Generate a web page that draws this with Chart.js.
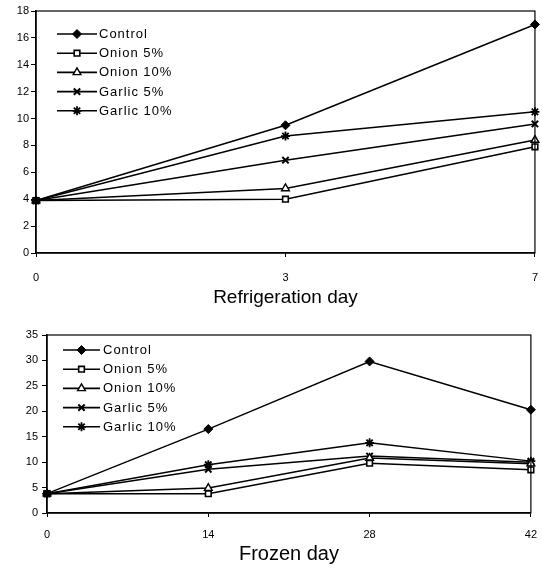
<!DOCTYPE html>
<html>
<head>
<meta charset="utf-8">
<script src="https://cdn.jsdelivr.net/npm/chart.js@4.4.1/dist/chart.umd.min.js"></script>
<style>
  html, body { margin: 0; padding: 0; background: #fff; overflow: hidden; }
  #wrapTop { position: absolute; left: 0; top: 0; width: 542px; height: 310px; overflow: hidden; }
  #wrapBottom { position: absolute; left: 0; top: 310px; width: 542px; height: 256px; overflow: hidden; }
</style>
</head>
<body>
<div id="wrapTop"><canvas id="topChart" width="552" height="310"></canvas></div>
<div id="wrapBottom"><canvas id="bottomChart" width="548" height="256"></canvas></div>
<script>
// ---- Data ----
const seriesNames = ['Control', 'Onion 5%', 'Onion 10%', 'Garlic 5%', 'Garlic 10%'];

const refrigerationDays = ['0', '3', '7'];
const refControl  = [3.9, 9.5, 17.0];
const refOnion5   = [3.9, 4.0, 7.9];
const refOnion10  = [3.9, 4.8, 8.4];
const refGarlic5  = [3.9, 6.9, 9.6];
const refGarlic10 = [3.9, 8.7, 10.5];
const refYTicks = [0, 2, 4, 6, 8, 10, 12, 14, 16, 18];

const frozenDays = ['0', '14', '28', '42'];
const frzControl  = [3.8, 16.5, 29.8, 20.3];
const frzOnion5   = [3.8, 3.8, 9.8, 8.5];
const frzOnion10  = [3.8, 4.9, 10.8, 9.7];
const frzGarlic5  = [3.8, 8.6, 11.2, 10.0];
const frzGarlic10 = [3.8, 9.5, 13.8, 10.2];
const frzYTicks = [0, 5, 10, 15, 20, 25, 30, 35];

// ---- Styles ----
const FONT = "'Liberation Sans', Arial, sans-serif";
const markerStyles = [
  { pointStyle: 'rectRot',  pointRadius: 4.5, pointBackgroundColor: '#000', pointBorderWidth: 1 },
  { pointStyle: 'rect',     pointRadius: 4,   pointBackgroundColor: '#fff', pointBorderWidth: 1.6 },
  { pointStyle: 'triangle', pointRadius: 4.5, pointBackgroundColor: '#fff', pointBorderWidth: 1.4 },
  { pointStyle: 'crossRot', pointRadius: 4.5, pointBackgroundColor: '#000', pointBorderWidth: 2 },
  { pointStyle: 'star',     pointRadius: 4.5, pointBackgroundColor: '#000', pointBorderWidth: 1.8 }
];

function makeDatasets(arrays) {
  return arrays.map((arr, i) => Object.assign({
    label: seriesNames[i],
    data: arr,
    borderColor: '#000',
    borderWidth: 1.5,
    pointBorderColor: '#000',
    tension: 0
  }, markerStyles[i]));
}

function drawMarker(ctx, ds, x, y) {
  ctx.save();
  ctx.fillStyle = ds.pointBackgroundColor;
  ctx.strokeStyle = '#000';
  ctx.lineWidth = ds.pointBorderWidth;
  if (Chart.helpers && Chart.helpers.drawPoint) {
    Chart.helpers.drawPoint(ctx, { pointStyle: ds.pointStyle, radius: ds.pointRadius, borderWidth: ds.pointBorderWidth, rotation: 0 }, x, y);
  } else {
    ctx.beginPath(); ctx.arc(x, y, ds.pointRadius, 0, Math.PI * 2); ctx.fill(); ctx.stroke();
  }
  ctx.restore();
}

const innerLegend = {
  id: 'innerLegend',
  afterDatasetsDraw(chart, args, opts) {
    const ctx = chart.ctx;
    const ca = chart.chartArea;
    ctx.save();
    ctx.font = opts.fontSize + 'px ' + FONT;
    ctx.textBaseline = 'middle';
    ctx.fillStyle = '#000';
    if ('letterSpacing' in ctx) ctx.letterSpacing = opts.letterSpacing + 'px';
    chart.data.datasets.forEach((ds, i) => {
      const y = ca.top + opts.offsetY + i * opts.spacing;
      const x0 = ca.left + opts.lineStart;
      const x1 = ca.left + opts.lineEnd;
      ctx.beginPath();
      ctx.lineWidth = 1.6;
      ctx.strokeStyle = '#000';
      ctx.moveTo(x0, y); ctx.lineTo(x1, y); ctx.stroke();
      drawMarker(ctx, ds, (x0 + x1) / 2, y);
      ctx.fillText(ds.label, x1 + opts.textGap, y + 0.5);
    });
    ctx.restore();
  }
};

const frame = {
  id: 'frame',
  afterDraw(chart) {
    const ctx = chart.ctx, ca = chart.chartArea;
    ctx.save();
    ctx.strokeStyle = '#000';
    ctx.lineWidth = 1.2;
    ctx.strokeRect(ca.left, ca.top, ca.right - ca.left, ca.bottom - ca.top);
    ctx.restore();
  }
};

function makeChart(id, labels, arrays, yTicks, cfg) {
  return new Chart(document.getElementById(id), {
    type: 'line',
    data: { labels: labels, datasets: makeDatasets(arrays) },
    plugins: [innerLegend, frame],
    options: {
      responsive: false,
      animation: false,
      layout: { padding: cfg.padding },
      plugins: {
        legend: { display: false },
        tooltip: { enabled: false },
        innerLegend: cfg.legend
      },
      scales: {
        x: {
          type: 'category',
          offset: false,
          grid: { drawOnChartArea: false, drawTicks: true, tickLength: 4, color: '#000', lineWidth: 1 },
          border: { color: '#000', width: 1.5 },
          ticks: { color: '#000', font: { family: FONT, size: 11 }, padding: cfg.xTickPad, maxRotation: 0, autoSkip: false },
          title: { display: true, text: cfg.xTitle, color: '#000', font: { family: FONT, size: cfg.titleSize }, padding: { top: 0, bottom: cfg.titlePadBottom } },
          afterFit(scale) { scale.height = cfg.xHeight; }
        },
        y: {
          min: yTicks[0],
          max: yTicks[yTicks.length - 1],
          afterBuildTicks(scale) { scale.ticks = yTicks.map(v => ({ value: v })); },
          grid: { drawOnChartArea: false, drawTicks: true, tickLength: 5, color: '#000', lineWidth: 1 },
          border: { color: '#000', width: 1.5 },
          ticks: { color: '#000', font: { family: FONT, size: 11 }, padding: cfg.yTickPad },
          afterFit(scale) { scale.width = cfg.yWidth; }
        }
      }
    }
  });
}

makeChart('topChart', refrigerationDays,
  [refControl, refOnion5, refOnion10, refGarlic5, refGarlic10], refYTicks, {
    padding: { top: 11, right: 6, left: 0, bottom: 0 },
    xHeight: 57, yWidth: 36, xTickPad: 14, yTickPad: 2,
    xTitle: 'Refrigeration day', titleSize: 19, titlePadBottom: 1,
    legend: { offsetY: 23, spacing: 19.2, lineStart: 21, lineEnd: 61, textGap: 2, fontSize: 13, letterSpacing: 1 }
  });

makeChart('bottomChart', frozenDays,
  [frzControl, frzOnion5, frzOnion10, frzGarlic5, frzGarlic10], frzYTicks, {
    padding: { top: 25, right: 11, left: 0, bottom: 0 },
    xHeight: 53, yWidth: 47, xTickPad: 11, yTickPad: 4,
    xTitle: 'Frozen day', titleSize: 20, titlePadBottom: 0,
    legend: { offsetY: 15, spacing: 19.2, lineStart: 16, lineEnd: 53, textGap: 3, fontSize: 13, letterSpacing: 1 }
  });
</script>
</body>
</html>
